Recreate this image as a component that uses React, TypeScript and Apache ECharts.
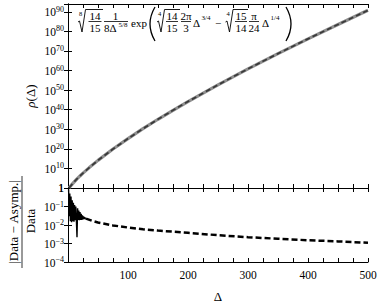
import React, { useEffect, useRef } from "react";
import * as echarts from "echarts";

const FONT = '"Liberation Serif", "DejaVu Serif", serif';

// Top panel: rho(Delta) vs Delta
const rhoDelta = [2, 3, 5, 7, 10, 15, 20, 25, 35, 50, 75, 100, 125, 150, 175, 200, 250, 300, 350, 400, 450, 500];
const rhoValues = [1.2, 3, 17, 94, 1.0e3, 4.4e4, 1.4e6, 4e7, 2e10, 1.3e14, 8e19, 1.8e25, 2e30, 1.3e35, 5e39, 1.5e44, 5e52, 7e60, 4.6e68, 1.6e76, 3.4e83, 6e90];

// Bottom panel: relative error, noisy part
const errNoiseDelta = [1, 2, 3, 4, 5, 6, 7, 8, 9, 10, 11, 12, 13, 14, 15, 16, 17, 18, 19, 20, 21, 22, 23, 24, 25, 26, 27, 28, 29, 30];
const errNoiseValues = [0.85, 0.03, 0.5, 0.016, 0.35, 0.014, 0.22, 0.016, 0.16, 0.015, 0.12, 0.018, 0.1, 0.017, 0.0022, 0.08, 0.019, 0.06, 0.018, 0.05, 0.019, 0.04, 0.019, 0.033, 0.02, 0.029, 0.021, 0.026, 0.021, 0.023];

// Bottom panel: relative error, smooth part
const errSmoothDelta = [30, 40, 50, 75, 100, 125, 150, 200, 250, 300, 350, 400, 450, 500];
const errSmoothValues = [0.022, 0.017, 0.0137, 0.0095, 0.0073, 0.0059, 0.005, 0.0038, 0.0028, 0.0022, 0.0018, 0.0015, 0.0013, 0.0011];

const xTickLabels = ["100", "200", "300", "400", "500"];

const pairs = (xs: number[], ys: number[]) => xs.map((x, i) => [x, ys[i]]);

const supLabel = (v: number, step: number) => {
  const e = Math.round(Math.log10(v));
  if (e % step !== 0) return "";
  if (e === 0) return "{b|1}";
  return `{b|10}{s|${e < 0 ? "−" + -e : e}}`;
};

const rich = {
  b: { fontSize: 11.5, fontFamily: FONT, color: "#000", verticalAlign: "bottom" },
  s: { fontSize: 8, fontFamily: FONT, color: "#000", verticalAlign: "bottom", padding: [0, 0, 5, 0] },
};

const FS = 11;

function txt(x: number, y: number, text: string, size = FS, align = "center", extra: any = {}) {
  return {
    type: "text",
    x,
    y,
    silent: true,
    style: { text, font: `${size}px ${FONT}`, fill: "#000", align, verticalAlign: "middle", ...extra },
  };
}
function hline(x1: number, x2: number, y: number, w = 0.8) {
  return { type: "line", silent: true, shape: { x1, y1: y, x2, y2: y }, style: { stroke: "#000", lineWidth: w } };
}
function frac(cx: number, w: number, num: string, den: string) {
  return [txt(cx, 15.5, num), hline(cx - w / 2, cx + w / 2, 21.5), txt(cx, 27.5, den)];
}
function radical(x: number, end: number, idx: string) {
  return [
    {
      type: "polyline",
      silent: true,
      shape: { points: [[x, 22], [x + 1.5, 21], [x + 4, 32], [x + 7.5, 9.5], [end, 9.5]] },
      style: { stroke: "#000", lineWidth: 0.9, fill: null },
    },
    txt(x + 2.5, 13, idx, 6.5),
  ];
}
function paren(xEnd: number, xMid: number) {
  return {
    type: "bezierCurve",
    silent: true,
    shape: { x1: xEnd, y1: 7, x2: xEnd, y2: 41, cpx1: xMid, cpy1: 24 },
    style: { stroke: "#000", lineWidth: 1.3, fill: null },
  };
}

function formula(): any[] {
  const els: any[] = [];
  els.push(...radical(78, 103, "8"));
  els.push(...frac(95, 13, "14", "15"));
  els.push(txt(115.5, 15.5, "1"), hline(104, 128, 21.5));
  els.push(txt(104, 27.5, "8Δ", FS, "left"), txt(118.5, 24.5, "5/8", 7, "left"));
  els.push(txt(131, 23, "exp", FS, "left"));
  els.push(paren(155, 145));
  els.push(...radical(157, 180, "4"));
  els.push(...frac(172, 12, "14", "15"));
  els.push(txt(186, 15.5, "2π"), hline(181, 191, 21.5), txt(186, 27.5, "3"));
  els.push(txt(193, 23, "Δ", FS, "left"), txt(201.5, 18, "3/4", 7, "left"));
  els.push(txt(218, 23, "−", FS));
  els.push(...radical(225.5, 248, "4"));
  els.push(...frac(241, 12, "15", "14"));
  els.push(txt(254, 15.5, "π"), hline(249, 259, 21.5), txt(254, 27.5, "24"));
  els.push(txt(262, 23, "Δ", FS, "left"), txt(270.5, 18, "1/4", 7, "left"));
  els.push(paren(286, 296));
  return els;
}

const axisLineStyle = { show: true, lineStyle: { color: "#000", width: 1 } };
const tickStyle = { show: true, inside: true, length: 4, lineStyle: { color: "#000", width: 1 } };

function xAxisDef(gridIndex: number, position: string, labels: boolean) {
  return {
    type: "value",
    gridIndex,
    position,
    min: 0,
    max: 500,
    interval: 25,
    axisLine: axisLineStyle,
    axisTick: tickStyle,
    splitLine: { show: false },
    axisLabel: labels
      ? {
          show: true,
          margin: 7,
          fontSize: 11.5,
          fontFamily: FONT,
          color: "#000",
          formatter: (v: number) => (xTickLabels.includes(String(v)) ? String(v) : ""),
        }
      : { show: false },
  };
}

function yAxisDef(gridIndex: number, position: string, min: number, max: number, step: number, labels: boolean, showMin: boolean) {
  return {
    type: "log",
    logBase: 10,
    gridIndex,
    position,
    min,
    max,
    axisLine: axisLineStyle,
    axisTick: tickStyle,
    splitLine: { show: false },
    minorTick: { show: false },
    axisLabel: labels
      ? {
          show: true,
          margin: 4,
          showMaxLabel: step === 1,
          showMinLabel: showMin,
          formatter: (v: number) => supLabel(v, step),
          rich,
        }
      : { show: false },
  };
}

export default function App() {
  const ref = useRef<HTMLDivElement>(null);
  useEffect(() => {
    if (!ref.current) return;
    const chart = echarts.init(ref.current, undefined, { renderer: "svg" });
    const rho = pairs(rhoDelta, rhoValues);
    chart.setOption({
      animation: false,
      backgroundColor: "#fff",
      grid: [
        { left: 68, right: 12, top: 4, height: 184, outerBoundsMode: "none" },
        { left: 68, right: 12, top: 188, height: 74, outerBoundsMode: "none" },
      ],
      xAxis: [
        xAxisDef(0, "bottom", false),
        xAxisDef(0, "top", false),
        xAxisDef(1, "bottom", true),
        xAxisDef(1, "top", false),
      ],
      yAxis: [
        yAxisDef(0, "left", 1, 1e94, 10, true, true),
        yAxisDef(0, "right", 1, 1e94, 10, false, false),
        yAxisDef(1, "left", 1e-4, 1, 1, true, true),
        yAxisDef(1, "right", 1e-4, 1, 1, false, false),
      ],
      series: [
        {
          type: "line",
          xAxisIndex: 0,
          yAxisIndex: 0,
          data: rho,
          showSymbol: false,
          lineStyle: { color: "#8f8f8f", width: 3.2 },
        },
        {
          type: "line",
          xAxisIndex: 0,
          yAxisIndex: 0,
          data: rho,
          showSymbol: false,
          lineStyle: { color: "#3a3a3a", width: 1.8, type: [5, 3] },
        },
        {
          type: "line",
          xAxisIndex: 2,
          yAxisIndex: 2,
          data: pairs(errNoiseDelta, errNoiseValues),
          showSymbol: false,
          lineStyle: { color: "#000", width: 1.4 },
        },
        {
          type: "line",
          xAxisIndex: 2,
          yAxisIndex: 2,
          data: pairs(errSmoothDelta, errSmoothValues),
          showSymbol: false,
          lineStyle: { color: "#000", width: 2.5, type: [6, 3] },
        },
      ],
      graphic: {
        elements: [
          ...formula(),
          {
            type: "text",
            x: 30,
            y: 96,
            rotation: Math.PI / 2,
            silent: true,
            style: {
              text: "{i|ρ}(Δ)",
              font: `13px ${FONT}`,
              fill: "#000",
              align: "center",
              verticalAlign: "middle",
              rich: { i: { fontStyle: "italic", fontSize: 13, fontFamily: FONT } },
            },
          },
          {
            type: "text",
            x: 13,
            y: 222,
            rotation: Math.PI / 2,
            silent: true,
            style: { text: "|Data − Asymp.|", font: `13px ${FONT}`, fill: "#000", align: "center", verticalAlign: "middle" },
          },
          { type: "line", silent: true, shape: { x1: 22, y1: 176, x2: 22, y2: 268 }, style: { stroke: "#000", lineWidth: 0.8 } },
          {
            type: "text",
            x: 30,
            y: 221,
            rotation: Math.PI / 2,
            silent: true,
            style: { text: "Data", font: `13px ${FONT}`, fill: "#000", align: "center", verticalAlign: "middle" },
          },
          txt(218, 296, "Δ", 13),
        ],
      },
    });
    return () => chart.dispose();
  }, []);
  return <div ref={ref} style={{ position: "fixed", left: 0, top: 0, width: 380, height: 305 }} />;
}
